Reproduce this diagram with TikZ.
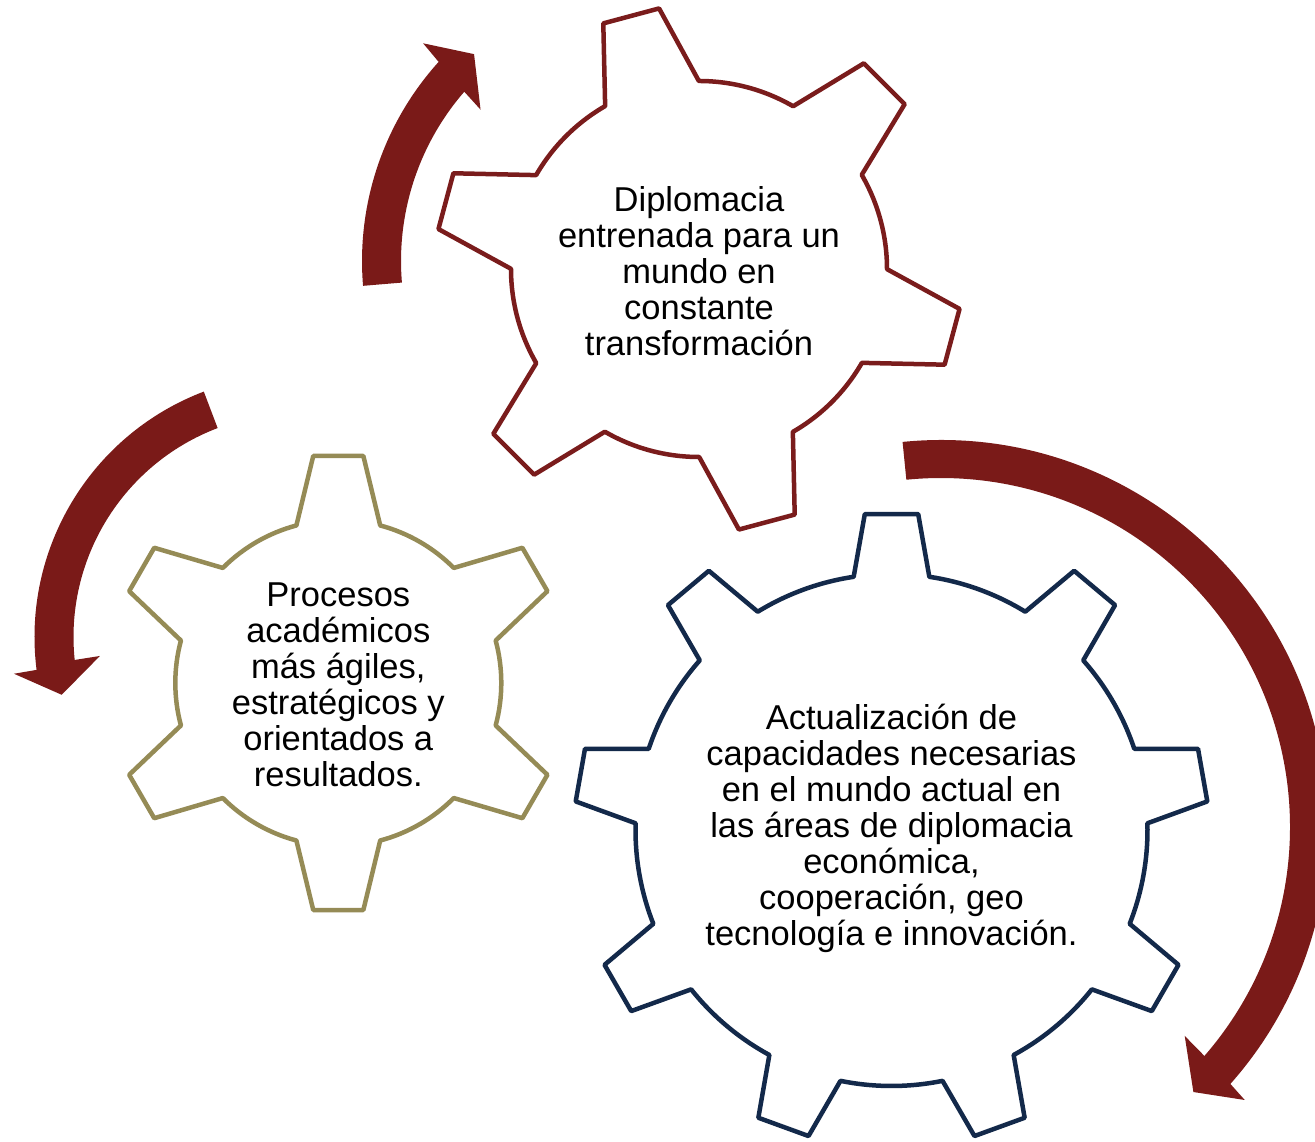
\documentclass[tikz,border=0pt]{standalone}
\usepackage{fontspec}
\setmainfont{Liberation Sans}
\definecolor{arrowred}{HTML}{7A1A18}
\definecolor{gearred}{HTML}{7A1C1C}
\definecolor{gearnavy}{HTML}{13294A}
\definecolor{gearolive}{HTML}{958B56}
% #1 colour, #2 #3 centre, #4 teeth, #5 first tooth angle, #6 tip radius, #7 tip half-angle, #8 body radius, #9 base half-angle
\newcommand{\mygear}[9]{%
  \draw[gearline, draw=#1, shift={(#2,#3)}] ({#5-#9}:#8)
    \foreach \k in {1,...,#4} {
      -- ({#5+(\k-1)*360/#4-#7}:#6) -- ({#5+(\k-1)*360/#4+#7}:#6)
      -- ({#5+(\k-1)*360/#4+#9}:#8)
      arc[start angle={#5+(\k-1)*360/#4+#9}, end angle={#5+\k*360/#4-#9}, radius=#8]
    } -- cycle;}
\begin{document}
\begin{tikzpicture}[x=1pt,y=1pt,
  gearline/.style={line width=4.5pt, line join=round},
  geartext/.style={align=center, font=\fontsize{34.5}{36}\selectfont, inner sep=0pt, text=black}]
\clip (0,0) rectangle (1315,1142);
% arrows
\fill[arrowred, shift={(659,881)}] (184.8:297) arc[start angle=184.8, end angle=137.9, radius=297]
  -- (137.3:321) -- (131.8:277.5) -- (139.7:234) -- (139:258)
  arc[start angle=139, end angle=184.8, radius=258] -- cycle;
\fill[arrowred, shift={(297,505)}] (110.8:262.5) arc[start angle=110.8, end angle=187.2, radius=262.5]
  -- (187.4:285.4) -- (193.8:242.3) -- (185.5:198) -- (185.9:223.5)
  arc[start angle=185.9, end angle=110.8, radius=223.5] -- cycle;
\fill[arrowred, shift={(941,315)}] (95.7:387) arc[start angle=95.7, end angle=-41.6, radius=387]
  -- (-41.95:408.4) -- (-46.4:366) -- (-40.6:321) -- (-41:349)
  arc[start angle=-41, end angle=95.7, radius=349] -- cycle;
% gears
\mygear{gearred}{699}{873}{6}{45}{263.6}{6.29}{188}{14.95}
\mygear{gearolive}{338.3}{459}{6}{30}{228.4}{6.3}{163}{14.9}
\mygear{gearnavy}{891.5}{312}{9}{90}{317.1}{4.83}{256}{8.5}
% texts
\node[geartext] (t1) at (699,871) {Diplomacia\\entrenada para un\\mundo en\\constante\\transformación};
\node[geartext] (t2) at (338.3,457) {Procesos\\académicos\\más ágiles,\\estratégicos y\\orientados a\\resultados.};
\node[geartext] (t3) at (891.5,314) {Actualización de\\capacidades necesarias\\en el mundo actual en\\las áreas de diplomacia\\económica,\\cooperación, geo\\tecnología e innovación.};
\end{tikzpicture}
\end{document}
